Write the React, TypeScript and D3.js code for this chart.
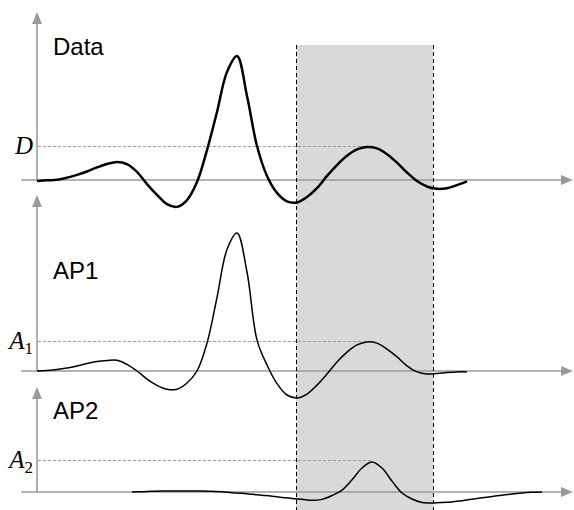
import React from "react";
import * as d3 from "d3";

// each signal is sampled every 0.2 time units from its start time;
// values are relative to the panel's reference level (D, A1, A2 = 1)
const sampleStep = 0.2;

const dataStart = 0;
const dataValues = [
  -0.03, -0.01, 0.01, 0.07, 0.15, 0.25, 0.37, 0.47, 0.53, 0.47, 0.24, -0.12, -0.44, -0.71, -0.79,
  -0.59, -0.06, 0.88, 2.0, 3.18, 3.65, 2.47, 1.0, 0.12, -0.38, -0.63, -0.66, -0.5, -0.24, 0.12,
  0.44, 0.71, 0.9, 0.97, 0.93, 0.76, 0.51, 0.22, -0.03, -0.19, -0.26, -0.24, -0.15, -0.04,
];

const ap1Start = 0;
const ap1Values = [
  0, 0.02, 0.05, 0.1, 0.17, 0.25, 0.32, 0.35, 0.36, 0.22, 0, -0.27, -0.48, -0.61, -0.61, -0.4, 0,
  0.93, 2.45, 4.05, 4.6, 3.3, 1.03, 0.2, -0.42, -0.8, -0.9, -0.77, -0.47, -0.1, 0.3, 0.63, 0.87,
  0.97, 0.93, 0.73, 0.47, 0.17, -0.03, -0.1, -0.08, -0.05, -0.03, -0.03,
];

const ap2Start = 1.9;
const ap2Values = [
  0, 0.01, 0.02, 0.03, 0.03, 0.03, 0.03, 0.03, 0.02, 0.01, -0.02, -0.04, -0.07, -0.1, -0.13, -0.17,
  -0.2, -0.23, -0.26, -0.23, -0.11, 0.06, 0.38, 0.75, 0.94, 0.75, 0.34, -0.03, -0.22, -0.33, -0.34,
  -0.33, -0.31, -0.27, -0.23, -0.18, -0.14, -0.1, -0.06, -0.03, -0.01, 0,
];

const labels = ["Data", "AP1", "AP2"];
const refNames = ["D", "A", "A"];
const refSubs = ["", "1", "2"];
const refEndT = [6.6, 6.7, 6.7];
const windowT = [5.18, 7.92];

const W = 574;
const H = 510;
const x = d3.scaleLinear().domain([0, 10]).range([37, 537]);

// layout of the three stacked panels: baseline y, reference y, axis top y
const panels = [
  { base: 180, ref: 146, top: 12, labelY: 55, width: 2.5, start: dataStart, v: dataValues },
  { base: 371, ref: 341, top: 195, labelY: 279, width: 1.5, start: ap1Start, v: ap1Values },
  { base: 492, ref: 460, top: 387, labelY: 419, width: 1.5, start: ap2Start, v: ap2Values },
];

const axisColor = "#9a9a9a";

export default function App() {
  const x0 = x(0);
  const xStart = 21;
  const xEnd = 573;
  return (
    <svg width={W} height={H} style={{ position: "absolute", left: 0, top: 0 }}>
      <rect x={0} y={0} width={W} height={H} fill="#fff" />
      <rect
        x={x(windowT[0])}
        y={45}
        width={x(windowT[1]) - x(windowT[0])}
        height={H - 45}
        fill="#d9d9d9"
      />
      {panels.map((p, i) => {
        const y = d3.scaleLinear().domain([0, 1]).range([p.base, p.ref]);
        const line = d3
          .line<number>()
          .x((_, j) => x(p.start + j * sampleStep))
          .y((d) => y(d))
          .curve(d3.curveCatmullRom.alpha(0.5));
        const yb = y(0);
        const yr = y(1);
        return (
          <g key={i}>
            {/* horizontal axis */}
            <line x1={xStart} x2={xEnd - 10} y1={yb} y2={yb} stroke={axisColor} strokeWidth={1.6} />
            <path d={`M${xEnd},${yb} L${xEnd - 12},${yb - 5} L${xEnd - 12},${yb + 5} Z`} fill={axisColor} />
            {/* vertical axis */}
            <line x1={x0} x2={x0} y1={p.top + 10} y2={yb} stroke={axisColor} strokeWidth={1.6} />
            <path d={`M${x0},${p.top} L${x0 - 5},${p.top + 12} L${x0 + 5},${p.top + 12} Z`} fill={axisColor} />
            {/* reference level */}
            <line
              x1={x0 + 1}
              x2={x(refEndT[i])}
              y1={yr + 0.5}
              y2={yr + 0.5}
              stroke={axisColor}
              strokeWidth={1}
              strokeDasharray="3,2"
            />
            <text
              x={33}
              y={yr + 8}
              textAnchor="end"
              fontFamily="'Liberation Serif', 'Times New Roman', serif"
              fontStyle="italic"
              fontSize={25}
              fill="#000"
            >
              {refNames[i]}
              {refSubs[i] && (
                <tspan fontStyle="normal" fontSize={17} dy={5}>
                  {refSubs[i]}
                </tspan>
              )}
            </text>
            <text
              x={53}
              y={p.labelY}
              fontFamily="'Liberation Sans', Arial, sans-serif"
              fontSize={24}
              fill="#000"
            >
              {labels[i]}
            </text>
            <path d={line(p.v) ?? ""} fill="none" stroke="#000" strokeWidth={p.width} strokeLinejoin="round" />
          </g>
        );
      })}
      {windowT.map((t, i) => (
        <line
          key={i}
          x1={x(t) + 0.5}
          x2={x(t) + 0.5}
          y1={45}
          y2={H}
          stroke="#000"
          strokeWidth={1}
          strokeDasharray="4,3"
        />
      ))}
    </svg>
  );
}
